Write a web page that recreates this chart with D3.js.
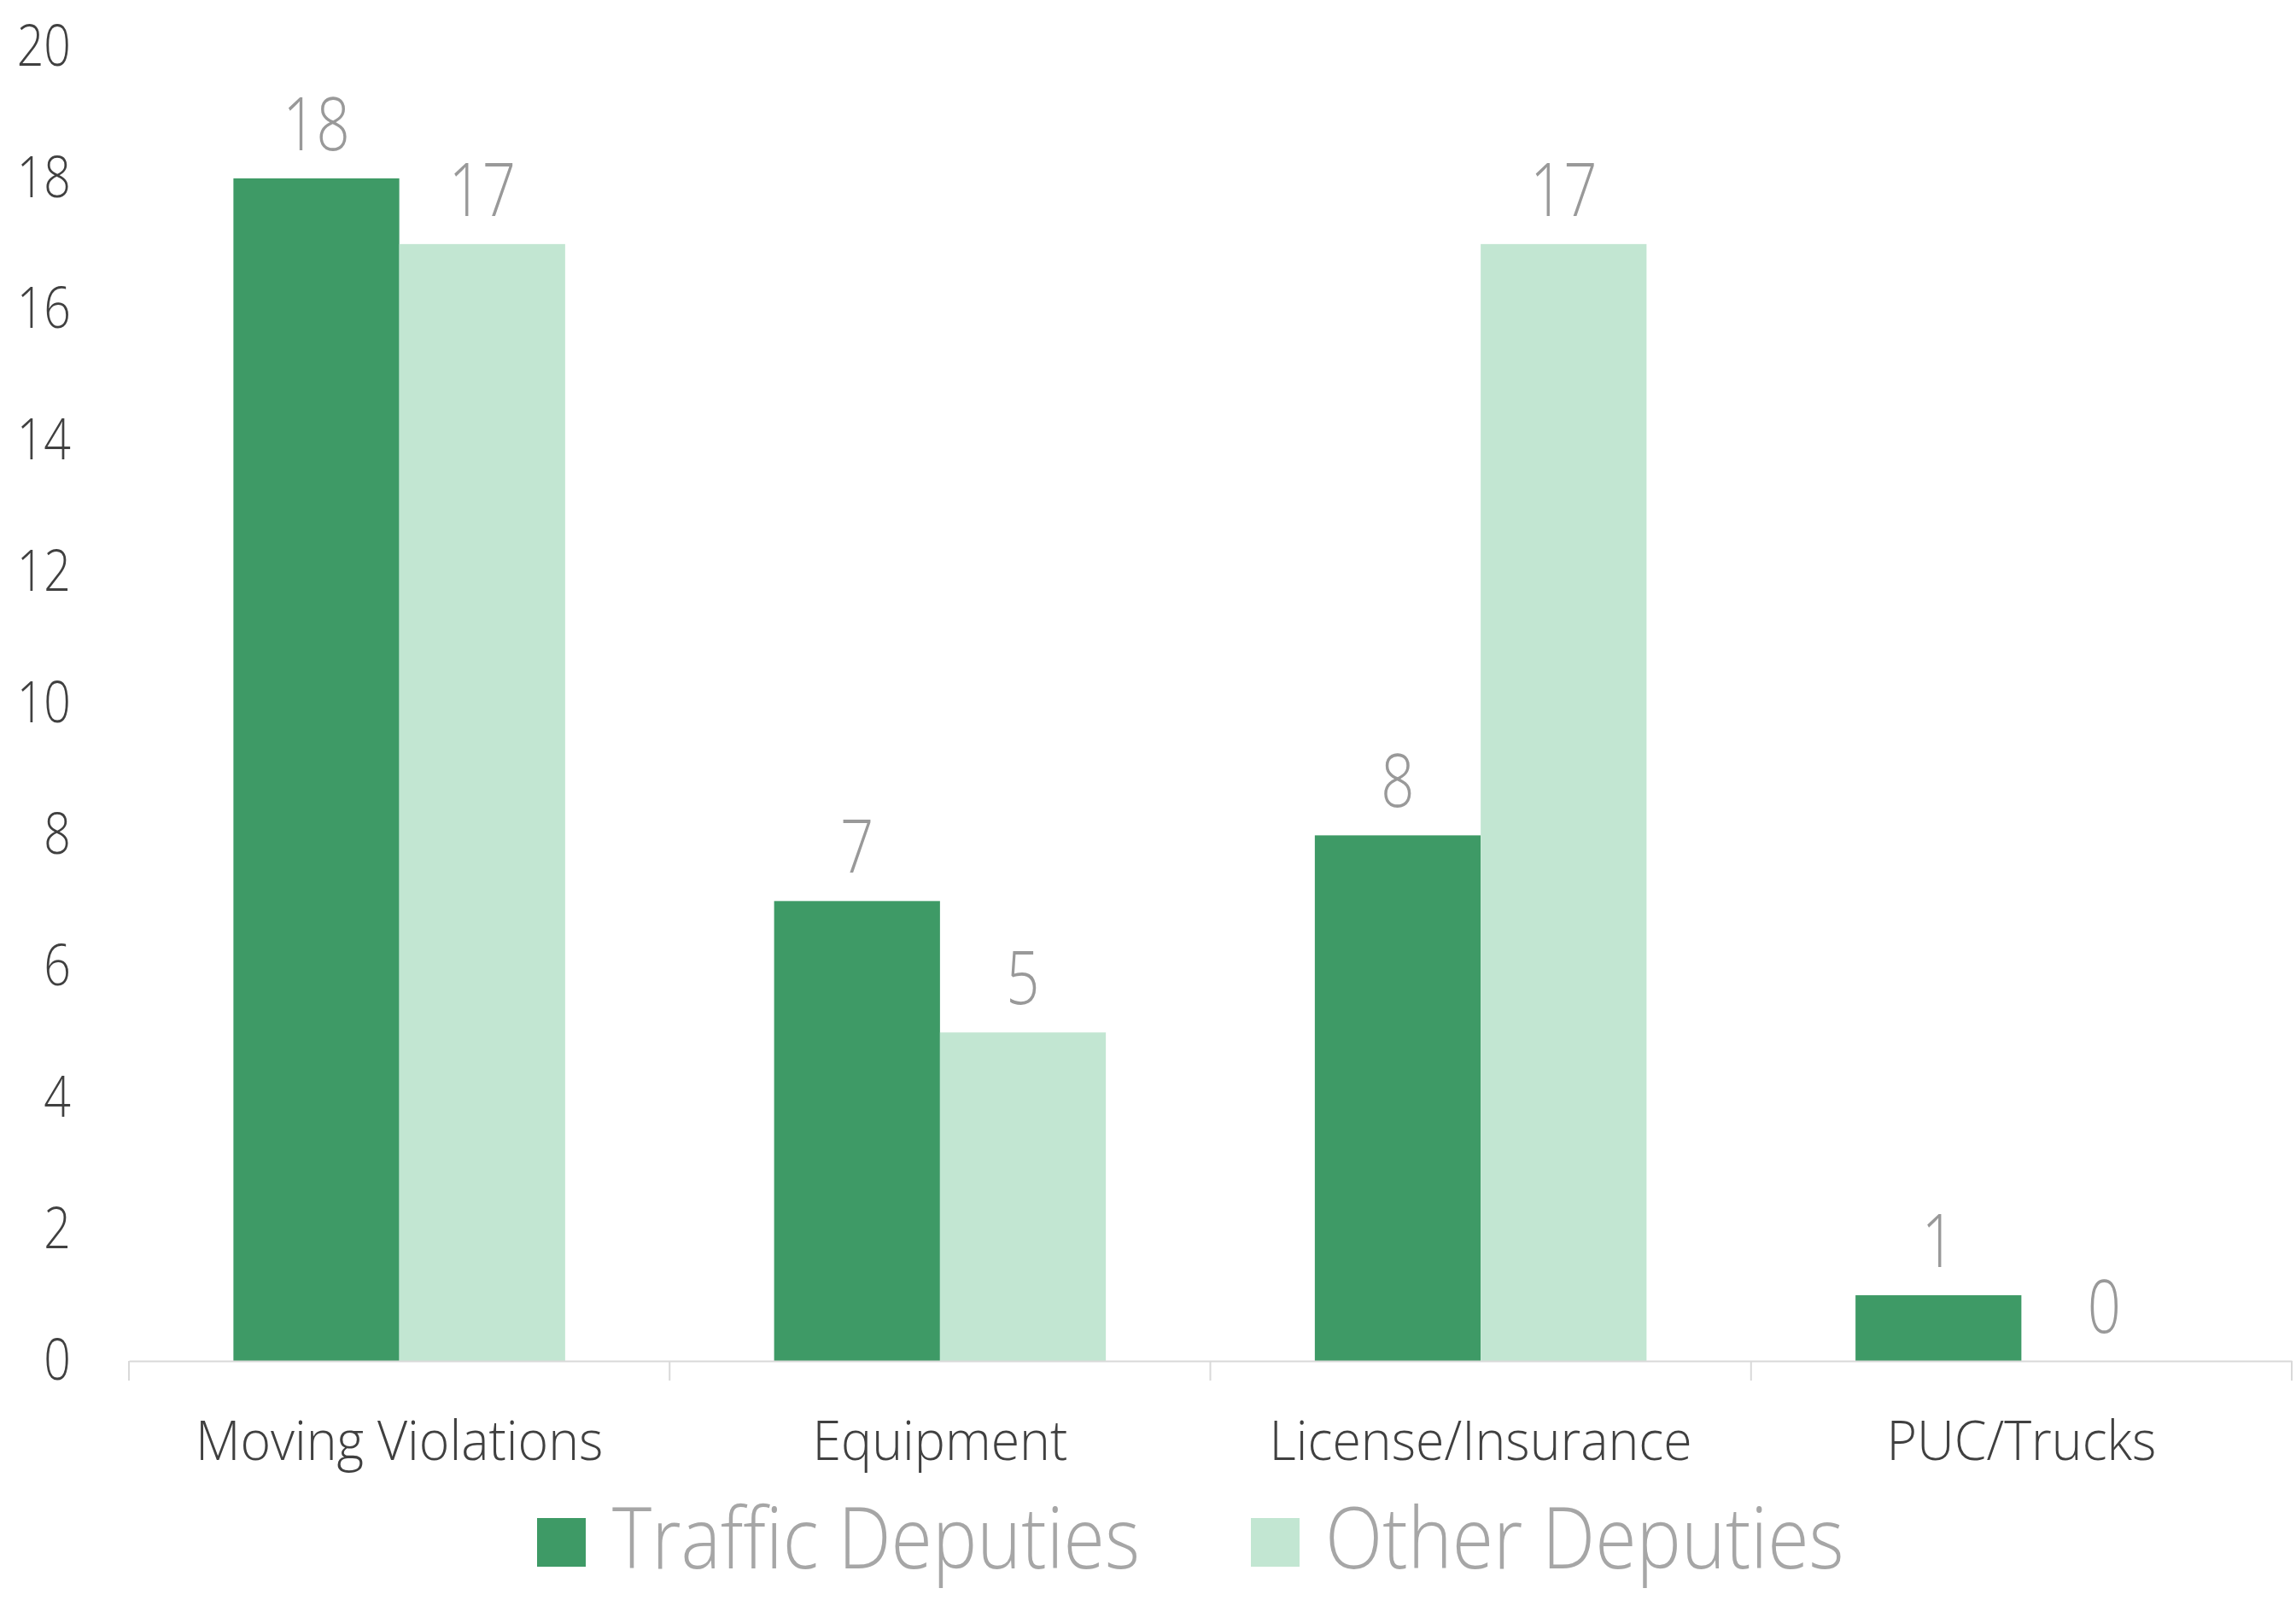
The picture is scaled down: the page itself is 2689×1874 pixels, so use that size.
<!DOCTYPE html>
<html>
<head>
<meta charset="utf-8">
<script src="https://cdn.jsdelivr.net/npm/d3@7"></script>
<style>
  html, body { margin: 0; padding: 0; background: #ffffff; }
  svg { display: block; }
  text { font-family: "Segoe UI", "Open Sans", sans-serif; font-weight: 300; }
</style>
</head>
<body>
<svg id="chart" width="2689" height="1874"></svg>
<script>
const categories = ["Moving Violations", "Equipment", "License/Insurance", "PUC/Trucks"];
const seriesNames = ["Traffic Deputies", "Other Deputies"];
const trafficDeputies = [18, 7, 8, 1];
const otherDeputies = [17, 5, 17, 0];
const yTicks = [0, 2, 4, 6, 8, 10, 12, 14, 16, 18, 20];
const colors = ["#3e9a66", "#c2e6d2"];

const seriesValues = [trafficDeputies, otherDeputies];
const W = 2689, H = 1874;
const margin = { left: 151, right: 5, top: 55, bottom: 280 };

const svg = d3.select("#chart");

// condense text horizontally to mimic the narrower original typeface
function condense(sel, factor) {
  sel.each(function () {
    const len = this.getComputedTextLength();
    d3.select(this).attr("textLength", len * factor).attr("lengthAdjust", "spacingAndGlyphs");
  });
}

const x0 = d3.scaleBand().domain(categories).range([margin.left, W - margin.right]).paddingInner(0).paddingOuter(0);
const x1 = d3.scaleBand().domain(seriesNames).range([0, x0.bandwidth()]).paddingInner(0).paddingOuter(0.63);
const y = d3.scaleLinear().domain([0, 20]).range([H - margin.bottom, margin.top]);
const color = d3.scaleOrdinal().domain(seriesNames).range(colors);

// Y axis labels (no line)
const yAxis = d3.axisLeft(y).tickValues(yTicks).tickSize(0).tickPadding(0);
const gy = svg.append("g").attr("transform", `translate(${margin.left - 68},0)`).call(yAxis);
gy.select(".domain").remove();
gy.selectAll("text")
  .attr("font-size", 66)
  .attr("fill", "#404040")
  .style("font-family", '"Segoe UI", "Open Sans", sans-serif')
  .style("font-weight", 300)
  .call(condense, 0.84);

// Bars
const groups = svg.append("g").selectAll("g")
  .data(categories)
  .join("g")
  .attr("transform", d => `translate(${x0(d)},0)`);

const barData = (c, i) => seriesNames.map((s, k) => ({ s, v: seriesValues[k][i] }));

groups.selectAll("rect")
  .data((c, i) => barData(c, i))
  .join("rect")
  .attr("x", d => x1(d.s))
  .attr("y", d => y(d.v))
  .attr("width", x1.bandwidth())
  .attr("height", d => y(0) - y(d.v))
  .attr("fill", d => color(d.s));

groups.selectAll("text.val")
  .data((c, i) => barData(c, i))
  .join("text")
  .attr("class", "val")
  .attr("x", d => x1(d.s) + x1.bandwidth() / 2)
  .attr("y", d => y(d.v) - 33)
  .attr("text-anchor", "middle")
  .attr("font-size", 86)
  .attr("fill", "#999999")
  .text(d => d.v)
  .call(condense, 0.8);

// X axis
const xAxis = d3.axisBottom(x0).tickSize(0).tickPadding(0);
const gx = svg.append("g").attr("transform", `translate(0,${y(0)})`).call(xAxis);
gx.select(".domain").attr("stroke", "#d9d9d9").attr("stroke-width", 2);
gx.selectAll(".tick text")
  .attr("y", 116)
  .attr("dy", 0)
  .attr("font-size", 64)
  .attr("fill", "#404040")
  .style("font-family", '"Segoe UI", "Open Sans", sans-serif')
  .style("font-weight", 300)
  .call(condense, 0.95);

// Category boundary ticks
const bounds = categories.map(c => x0(c)).concat([x0.range()[1]]);
svg.append("g").selectAll("line")
  .data(bounds)
  .join("line")
  .attr("x1", d => Math.min(d, W - 3))
  .attr("x2", d => Math.min(d, W - 3))
  .attr("y1", y(0))
  .attr("y2", y(0) + 23)
  .attr("stroke", "#d9d9d9")
  .attr("stroke-width", 2);

// Legend
const legendItems = [
  { name: seriesNames[0], sx: 629, tx: 717 },
  { name: seriesNames[1], sx: 1465, tx: 1552 }
];
const lg = svg.append("g");
lg.selectAll("rect")
  .data(legendItems)
  .join("rect")
  .attr("x", d => d.sx)
  .attr("y", 1778)
  .attr("width", 57)
  .attr("height", 57)
  .attr("fill", d => color(d.name));
lg.selectAll("text")
  .data(legendItems)
  .join("text")
  .attr("x", d => d.tx)
  .attr("y", 1837)
  .attr("font-size", 100)
  .attr("fill", "#a6a6a6")
  .text(d => d.name)
  .call(condense, 0.88);
</script>
</body>
</html>
